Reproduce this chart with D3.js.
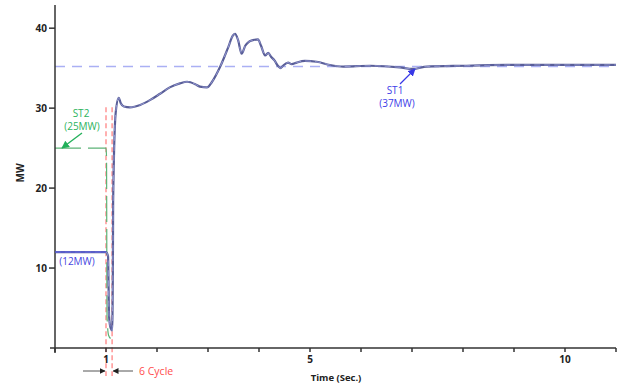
<!DOCTYPE html>
<html>
<head>
<meta charset="utf-8">
<script src="https://cdn.jsdelivr.net/npm/d3@7"></script>
<style>
  body { margin: 0; background: #fff; }
  svg { display: block; font-family: "Open Sans", "DejaVu Sans", sans-serif; }
</style>
</head>
<body>
<svg id="chart" width="620" height="386"></svg>
<script>
// ST1 output (MW) over time (s)
const st1Time = [0, 1.0, 1.04, 1.06, 1.09, 1.12, 1.135, 1.14, 1.19, 1.25, 1.29, 1.35, 1.47, 1.67, 1.86,
  2.06, 2.25, 2.45, 2.59, 2.75, 2.84, 2.98, 3.08, 3.24, 3.39, 3.49, 3.53, 3.59, 3.66, 3.73, 3.8,
  3.88, 3.98, 4.04, 4.12, 4.18, 4.24, 4.3, 4.37, 4.42, 4.47, 4.57, 4.64, 4.74, 4.9, 5.13, 5.39,
  5.65, 6.18, 6.76, 7.02, 7.29, 8.07, 8.86, 11.0];
const st1MW = [12, 12, 11.5, 4, 2.5, 2.2, 10, 18.3, 29.4, 31.3, 30.6, 30.2, 30.1, 30.4, 31.0,
  31.8, 32.6, 33.1, 33.3, 33.0, 32.7, 32.6, 33.3, 35.2, 37.5, 39.1, 39.3, 38.5, 36.8, 37.8, 38.3,
  38.5, 38.6, 37.8, 36.6, 36.9, 36.4, 36.0, 35.3, 35.0, 35.3, 35.7, 35.5, 35.7, 35.9, 35.8, 35.4,
  35.2, 35.3, 35.1, 34.9, 35.2, 35.3, 35.4, 35.4];

// ST2 output (MW)
const st2Time = [0, 1.0, 1.01, 1.02, 1.05, 1.09];
const st2MW = [25, 25, 24, 4, 1.6, 1.2];

const refMW = 35.2;          // steady-state reference
const faultStart = 1.0;      // fault applied
const faultEnd = 1.12;       // cleared after 6 cycles
const xTicks = [0, 1, 2, 3, 4, 5, 6, 7, 8, 9, 10, 11];
const xLabels = [1, 5, 10];
const yTicks = [10, 20, 30, 40];

const svg = d3.select("#chart");

const x = d3.scaleLinear().domain([0, 11]).range([55, 616]);
const y = d3.scaleLinear().domain([0, 42.9]).range([348, 5]);

// reference dashed line
svg.append("line")
    .attr("x1", x(0)).attr("x2", x(11))
    .attr("y1", y(refMW)).attr("y2", y(refMW))
    .attr("stroke", "#aab0f4")
    .attr("stroke-width", 1.6)
    .attr("stroke-dasharray", "10,7");

// fault window
[faultStart, faultEnd].forEach(t => {
  svg.append("line")
      .attr("x1", x(t)).attr("x2", x(t))
      .attr("y1", y(30.1)).attr("y2", 376)
      .attr("stroke", "#ff9c9c")
      .attr("stroke-width", 1.6)
      .attr("stroke-dasharray", "5,3");
});

const line = d3.line()
    .x(d => x(d[0]))
    .y(d => y(d[1]))
    .curve(d3.curveMonotoneX);

// ST2
svg.append("path")
    .datum(d3.zip(st2Time, st2MW))
    .attr("fill", "none")
    .attr("stroke", "#5cb377")
    .attr("stroke-width", 1.2)
    .attr("stroke-dasharray", "26,7")
    .attr("d", line);

// ST1
const st1 = d3.zip(st1Time, st1MW);
svg.append("path")
    .datum(st1)
    .attr("fill", "none")
    .attr("stroke", "#595e98")
    .attr("stroke-width", 2.2)
    .attr("d", line);
svg.append("path")
    .datum(st1)
    .attr("fill", "none")
    .attr("stroke", "#a9aee6")
    .attr("stroke-width", 0.7)
    .attr("stroke-dasharray", "6,4")
    .attr("d", line);

// axes
const axes = svg.append("g").attr("stroke", "#333").attr("stroke-width", 1.5);
axes.append("line").attr("x1", x(0)).attr("x2", x(0)).attr("y1", 5).attr("y2", 353);
axes.append("line").attr("x1", 50).attr("x2", x(11)).attr("y1", y(0)).attr("y2", y(0));
axes.selectAll(".yt").data(yTicks).join("line")
    .attr("x1", x(0) - 6).attr("x2", x(0))
    .attr("y1", d => y(d)).attr("y2", d => y(d));
axes.selectAll(".xt").data(xTicks).join("line")
    .attr("x1", d => x(d)).attr("x2", d => x(d))
    .attr("y1", y(0)).attr("y2", y(0) + 4);

svg.selectAll(".ylab").data(yTicks).join("text")
    .attr("x", x(0) - 8).attr("y", d => y(d) + 3.5)
    .attr("text-anchor", "end")
    .attr("font-size", 10).attr("font-weight", 700).attr("fill", "#222")
    .text(d => d);
svg.selectAll(".xlab").data(xLabels).join("text")
    .attr("x", d => x(d)).attr("y", 363)
    .attr("text-anchor", "middle")
    .attr("font-size", 10).attr("font-weight", 700).attr("fill", "#222")
    .text(d => d);

svg.append("text")
    .attr("x", 336).attr("y", 381)
    .attr("text-anchor", "middle")
    .attr("font-size", 9.5).attr("font-weight", 700).attr("fill", "#222")
    .text("Time (Sec.)");
svg.append("text")
    .attr("transform", "translate(24,173) rotate(-90)")
    .attr("text-anchor", "middle")
    .attr("font-size", 10).attr("font-weight", 700).attr("fill", "#222")
    .text("MW");

// annotations
const defs = svg.append("defs");
function marker(id, color) {
  defs.append("marker")
      .attr("id", id)
      .attr("viewBox", "0 0 10 10")
      .attr("refX", 9).attr("refY", 5)
      .attr("markerWidth", 6).attr("markerHeight", 6)
      .attr("orient", "auto")
    .append("path")
      .attr("d", "M0,0L10,5L0,10z")
      .attr("fill", color);
}
marker("arGreen", "#22b05a");
marker("arBlue", "#3838e6");
marker("arDark", "#222");

// 12MW initial level of ST1
svg.append("line")
    .attr("x1", x(0)).attr("x2", x(faultStart))
    .attr("y1", y(12)).attr("y2", y(12))
    .attr("stroke", "#5a5ed6").attr("stroke-width", 1.5);
svg.append("text")
    .attr("x", 77).attr("y", 265)
    .attr("text-anchor", "middle")
    .attr("font-size", 10).attr("fill", "#4646e0")
    .text("(12MW)");

// ST2 label
svg.append("line")
    .attr("x1", 82).attr("y1", 133).attr("x2", 62).attr("y2", 148)
    .attr("stroke", "#22b05a").attr("stroke-width", 1.3)
    .attr("marker-end", "url(#arGreen)");
svg.append("text")
    .attr("x", 81).attr("y", 117)
    .attr("text-anchor", "middle")
    .attr("font-size", 10).attr("fill", "#2cb35d")
    .text("ST2");
svg.append("text")
    .attr("x", 82).attr("y", 130)
    .attr("text-anchor", "middle")
    .attr("font-size", 10).attr("fill", "#2cb35d")
    .text("(25MW)");

// ST1 label
svg.append("line")
    .attr("x1", 400).attr("y1", 84).attr("x2", 415).attr("y2", 69)
    .attr("stroke", "#3838e6").attr("stroke-width", 1.3)
    .attr("marker-end", "url(#arBlue)");
svg.append("text")
    .attr("x", 395).attr("y", 94)
    .attr("text-anchor", "middle")
    .attr("font-size", 10).attr("fill", "#4040e8")
    .text("ST1");
svg.append("text")
    .attr("x", 397).attr("y", 107)
    .attr("text-anchor", "middle")
    .attr("font-size", 10).attr("fill", "#4040e8")
    .text("(37MW)");

// 6 cycle span
svg.append("line")
    .attr("x1", 83).attr("x2", x(faultStart) - 1)
    .attr("y1", 371).attr("y2", 371)
    .attr("stroke", "#555").attr("stroke-width", 1)
    .attr("marker-end", "url(#arDark)");
svg.append("line")
    .attr("x1", 133).attr("x2", x(faultEnd) + 1)
    .attr("y1", 371).attr("y2", 371)
    .attr("stroke", "#555").attr("stroke-width", 1)
    .attr("marker-end", "url(#arDark)");
svg.append("text")
    .attr("x", 139).attr("y", 375)
    .attr("font-size", 10.5).attr("fill", "#ff4d4d")
    .text("6 Cycle");
</script>
</body>
</html>
